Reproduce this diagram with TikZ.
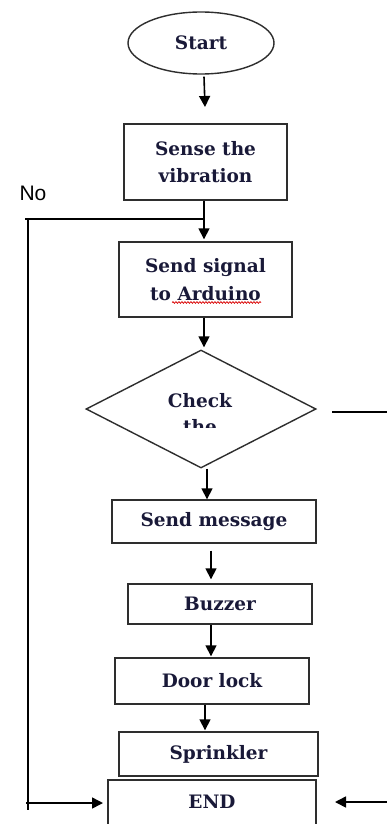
\documentclass[tikz,border=0pt]{standalone}
\usepackage{fontspec}
\setmainfont{DejaVu Serif}
\newfontfamily\nofont{Liberation Sans}
\usetikzlibrary{shapes.geometric,arrows.meta,decorations.pathmorphing}
\definecolor{txt}{rgb}{0.10,0.10,0.22}
\definecolor{edge}{rgb}{0.18,0.18,0.18}
\tikzset{
  box/.style={draw=edge, line width=1.4pt, rectangle, inner sep=0pt,
    font=\fontsize{18.5}{27.5}\selectfont\bfseries, text=txt, align=center},
  arr/.style={draw=black, line width=1.6pt, -{Triangle[length=11pt,width=11pt]}},
  ln/.style={draw=black, line width=1.6pt}
}
\begin{document}
\begin{tikzpicture}[x=1pt,y=-1pt]
\useasboundingbox (0,0) rectangle (387,824);
\clip (0,0) rectangle (387,824);
\fill[white] (0,0) rectangle (387,824);
% nodes
\node[box, ellipse, minimum width=146, minimum height=62] (start) at (201,43) {Start};
\node[box, minimum width=163, minimum height=76] (sense) at (205.5,162) {Sense the\\vibration};
\node[box, minimum width=173, minimum height=75] (sig) at (205.5,279.5) {Send signal\\to Arduino};
\node[box, diamond, aspect=1.95, minimum width=230, minimum height=118] (chk) at (201,409) {};
\begin{scope}
  \clip (150,380) rectangle (260,427);
  \node[font=\fontsize{18.5}{26}\selectfont\bfseries, text=txt, align=center, inner sep=0pt, anchor=north] (chktxt) at (200,393) {Check\\the};
\end{scope}
\node[box, minimum width=204, minimum height=43] (msg) at (214,521.5) {Send message};
\node[box, minimum width=184, minimum height=40] (buz) at (220,604) {Buzzer};
\node[box, minimum width=194, minimum height=46] (door) at (212,681) {Door lock};
\node[box, minimum width=199, minimum height=44] (spr) at (218.5,754) {Sprinkler};
\node[box, minimum width=208, minimum height=50, text depth=6pt] (endb) at (212,805) {END};
\node[font=\nofont\fontsize{21}{24}\selectfont, text=black, inner sep=0pt] (no) at (33,193) {No};
% spell-check underline
\draw[red!85!black, line width=0.7pt, decorate, decoration={snake, amplitude=0.9pt, segment length=3pt}] (172,302.5) -- (261,302.5);
% coordinates
\coordinate (j1) at (204,219);
\coordinate (l1) at (25,219);
\coordinate (l2) at (28,810);
\coordinate (l3) at (26,803);
\coordinate (r1) at (332,412);
\coordinate (r2) at (387,412);
\coordinate (r3) at (387,802);
\coordinate (r4) at (335,802);
\coordinate (e1) at (103,803);
% connectors
\draw[arr] ([xshift=3pt,yshift=-2pt]start.south) -- (205,107);
\draw[ln] ([xshift=-1.5pt]sense.south) -- (j1);
\draw[arr] (j1) -- ([xshift=-1.5pt,yshift=2pt]sig.north);
\draw[ln] (l1) -- (j1);
\draw[ln] (28,219) -- (l2);
\draw[arr] (l3) -- (e1);
\draw[arr] ([xshift=-1.5pt]sig.south) -- ([xshift=3pt,yshift=2pt]chk.north);
\draw[arr] ([xshift=6pt]chk.south) -- ([xshift=-7pt]msg.north);
\draw[arr] ([xshift=-3pt,yshift=-7pt]msg.south) -- ([xshift=-9pt,yshift=4pt]buz.north);
\draw[arr] ([xshift=-9pt]buz.south) -- ([xshift=-1pt,yshift=1pt]door.north);
\draw[arr] ([xshift=-7pt]door.south) -- ([xshift=-13.5pt,yshift=1pt]spr.north);
\draw[ln] (r1) -- (r2);
\draw[arr] (r3) -- (r4);
\end{tikzpicture}
\end{document}
